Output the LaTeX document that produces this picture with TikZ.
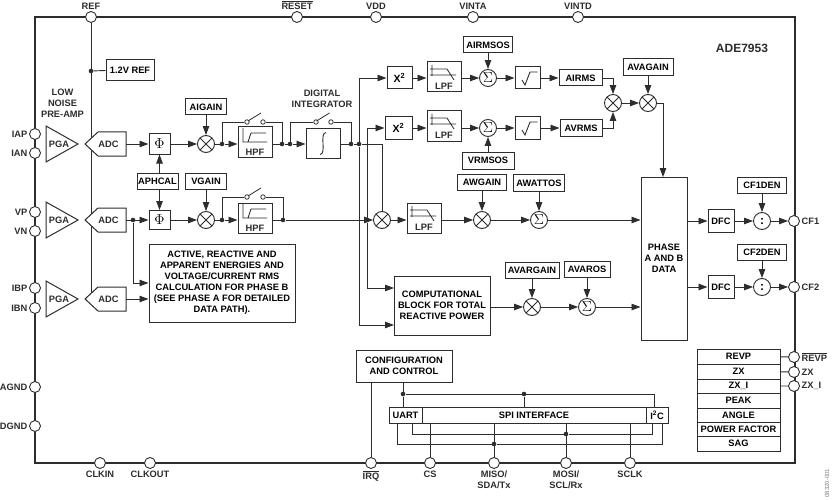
\documentclass[tikz,border=0pt]{standalone}
\usepackage{fontspec}
\setmainfont{Liberation Sans}
\usetikzlibrary{arrows.meta}
\tikzset{
  wire/.style={line width=0.9pt, lineC},
  arr/.style={wire, -{Triangle[length=9pt,width=6.5pt]}},
  blk/.style={draw=lineC, line width=1pt, fill=white, inner sep=0pt, align=center},
  txt/.style={inner sep=0pt, align=center, text=lineC},
  pinc/.style={circle, draw=lineC, line width=0.9pt, fill=white, inner sep=0pt, minimum size=11pt},
  junct/.style={circle, fill=lineC, inner sep=0pt, minimum size=4.6pt},
  opc/.style={circle, draw=lineC, line width=0.9pt, fill=white, inner sep=0pt, minimum size=17pt},
  mult/.style={opc, path picture={
    \draw[line width=0.9pt, lineC] (path picture bounding box.south west) -- (path picture bounding box.north east)
      (path picture bounding box.north west) -- (path picture bounding box.south east);}},
  hpfpic/.pic={
    \draw[line width=0.8pt, lineC] (-12,-14) -- (-12,0) -- (12,0) (-7,0) -- (-4,-9) -- (11,-9);},
  lpfpic/.pic={
    \draw[line width=0.8pt, lineC] (-12,-12) -- (-12,-1) (-14,-2) -- (12,-2) (-14,-8) -- (3,-8) -- (10,3);},
  swpic/.pic={
    \draw[line width=0.8pt, lineC] (-7,-1) -- (6,-9);},
  rootpic/.pic={
    \draw[line width=0.9pt, lineC] (-5.5,2) -- (-2.5,7) -- (2.5,-6) -- (10,-6);}
}
\newcommand{\phisym}{{\fontsize{14.4}{14.4}\selectfont$\Phi$}}
\newcommand{\xsq}{{\fontsize{10.5}{11}\selectfont X\textsuperscript{2}}}
\begin{document}
\begin{tikzpicture}[x=1pt, y=-1pt, every node/.style={font=\bfseries\fontsize{9.3}{11}\selectfont},
    every label/.style={inner sep=1.5pt, align=center, text=lineC}, label distance=0pt]
  \definecolor{lineC}{RGB}{45,45,45}
  \useasboundingbox (0,0) rectangle (832,500);
  \node[draw=lineC, line width=1.6pt, minimum width=760, minimum height=446, inner sep=0pt] (chip) at (415,240) {};
  \node[txt, font=\bfseries\fontsize{12}{14}\selectfont] (title) at (742,48) {ADE7953};
  \foreach \n/\x/\t in {REF/91/REF,RESET/297/$\overline{\mbox{RESET}}$,VDD/376/VDD,VINTA/473/VINTA,VINTD/578/VINTD}
    \node[pinc, label={above:\t}] (pin\n) at (\x,17) {};
  \foreach \n/\y in {IAP/134,IAN/153,VP/212,VN/231,IBP/288,IBN/308,AGND/387,DGND/426}
    \node[pinc, label={left:\n}] (pin\n) at (35,\y) {};
  \foreach \n/\x/\t in {CLKIN/100/CLKIN,CLKOUT/150/CLKOUT,IRQ/371/$\overline{\mbox{IRQ}}$,CS/430/CS,MISO/494/{MISO/\\SDA/Tx},MOSI/566/{MOSI/\\SCL/Rx},SCLK/630/SCLK}
    \node[pinc, label={below:\t}] (pin\n) at (\x,463) {};
  \foreach \n/\y/\t in {CFa/221/CF1,CFb/287/CF2,REVP/357/$\overline{\mbox{REVP}}$,ZX/372/ZX,ZXI/386/ZX\_I}
    \node[pinc, label={right:\t}] (pin\n) at (794,\y) {};
  \coordinate (refEnd) at (91,293);
  \draw[wire] (pinREF) -- (refEnd);
  \foreach \n/\y in {A/144,B/220,C/299}{
    \draw[blk] (46,\y-18) -- (78,\y) -- (46,\y+18) -- cycle;
    \draw[blk] (85,\y) -- (98,\y-12) -- (126,\y-12) -- (126,\y+12) -- (98,\y+12) -- cycle;
    \node[txt] (pga\n) at (59,\y) {PGA};
    \node[txt, minimum width=35, minimum height=24] (adc\n) at (108.5,\y) {ADC};
  }
  \node[txt] (preamp) at (62.5,103.5) {LOW\\NOISE\\PRE-AMP};
  \node[txt] (integLbl) at (322,98.5) {DIGITAL\\INTEGRATOR};
  \foreach \n/\x/\y/\w/\h/\t in {
      refBox/130/70.5/48/21/1.2V REF, phiA/159.5/144/21/20/\phisym, phiB/159.5/220/21/19/\phisym,
      aigain/206/107/41/16/AIGAIN, aphcal/157.5/181.5/41/16/APHCAL, vgain/206/181.5/41/16/VGAIN,
      integ/323/143.5/34/30/{},
      xA/399.5/78/25/22/\xsq, xB/398.5/128/27/23/\xsq,
      rootA/527.5/78/25/22/{}, rootB/527.5/128/25/23/{},
      airmsos/488/45/49/16/AIRMSOS, vrmsos/488/160.5/52/17/VRMSOS,
      awgain/482/182/49/16/AWGAIN, awattos/539/183/51/17/AWATTOS,
      avargain/532/270/54/16/AVARGAIN, avaros/587/269/46/16/AVAROS,
      airms/580.5/78/43/16/AIRMS, avrms/581/128/42/17/AVRMS, avagain/648/67.5/50/17/AVAGAIN,
      dfcA/721/221/26/23/DFC, dfcB/721/287/26/23/DFC,
      cfaden/762/185/49/16/CF1DEN, cfbden/762/252/49/16/CF2DEN,
      phase/664/258.5/46/163/{PHASE\\A AND B\\DATA},
      comp/442/305.5/96/59/{COMPUTATIONAL\\BLOCK FOR TOTAL\\REACTIVE POWER},
      phaseB/222/283/146/78/{ACTIVE, REACTIVE AND\\APPARENT ENERGIES AND\\VOLTAGE/CURRENT RMS\\CALCULATION FOR PHASE B\\(SEE PHASE A FOR DETAILED\\DATA PATH).},
      cfg/404/366/96/32/{CONFIGURATION\\AND CONTROL},
      uart/405.5/415/33/16/UART, spi/534/415/224/16/SPI INTERFACE, i2c/657/415/22/16/I\textsuperscript{2}C}
    \node[blk, minimum width=\w, minimum height=\h] (\n) at (\x,\y) {\t};
  \foreach \n/\y/\h/\t in {REVP/356.5/15/REVP,ZX/371.5/15/ZX,ZXI/386/14/ZX\_I,PEAK/400.5/15/PEAK,ANGLE/415/14/ANGLE,PF/429/14/POWER FACTOR,SAG/443.5/15/SAG}
    \node[blk, minimum width=83, minimum height=\h] (row\n) at (738.5,\y) {\t};
  \foreach \n/\x/\y in {hpfA/255/142,hpfB/255/218}{
    \node[blk, minimum width=34, minimum height=30] (\n) at (\x,\y) {};
    \node[txt] (\n txt) at (\x,\y+10) {HPF};
    \pic at (\x,\y) {hpfpic};
  }
  \foreach \n/\x/\y in {lpfA/444/77,lpfB/444/126,lpfC/424/218}{
    \node[blk, minimum width=34, minimum height=30] (\n) at (\x,\y) {};
    \node[txt] (\n txt) at (\x,\y+9) {LPF};
    \pic at (\x,\y) {lpfpic};
  }
  \draw[wire] (320,154.5) .. controls (327,154) and (319,133) .. (326,132.5);
  \pic at (rootA) {rootpic};
  \pic at (rootB) {rootpic};
  \foreach \n/\x/\y in {mulA/206/144,mulB/206/220,mulC/382/220,mulD/482/220,mulE/532/307,mulF/613/103,mulG/648/103}
    \node[mult] (\n) at (\x,\y) {};
  \foreach \n/\x/\y in {sumA/488/78,sumB/488/128,sumC/539/220,sumD/587/307}
    \node[opc, font=\fontsize{14.4}{14.4}\selectfont] (\n) at (\x,\y) {$\Sigma$};
  \foreach \n/\y in {divA/221,divB/287}
    \node[opc, font=\bfseries\fontsize{12}{12}\selectfont] (\n) at (762,\y) {:};
  \foreach \n/\x/\y in {dA/222/144,dB/282/144,dC/290/144,dD/351/144,dE/359/144,
      dF/133/220,dG/222/220,dH/283/220,dI/367/220,dRef/91/71,dCfg/403/394,dSpi/524/394,dMiso/494/444,dMosi/566/434}
    \node[junct] (\n) at (\x,\y) {};
  \foreach \n/\x/\y in {swAl/247/122,swAr/263/122,swBl/247/197,swBr/263/197,swCl/316/122,swCr/331/122}
    \node[circle, draw=lineC, line width=0.8pt, fill=white, inner sep=0pt, minimum size=4.5pt] (\n) at (\x,\y) {};
  \pic at (255,122) {swpic};
  \pic at (255,197) {swpic};
  \pic at (323.5,122) {swpic};
  \coordinate (compA) at (394,288);
  \coordinate (compB) at (394,325);
  \coordinate (i2cTop) at (654,407);
  \coordinate (uartA) at (397,423);
  \coordinate (uartB) at (412,423);
  \coordinate (i2cA) at (652,423);
  \coordinate (i2cB) at (662,423);
  \draw[wire] (dRef) -- (refBox.west);
  \foreach \a/\b in {adcA/phiA,phiA/mulA,adcB/phiB,phiB/mulB,dI/mulC,sumA/rootA,sumB/rootB,rootA/airms,rootB/avrms,
      mulF/mulG,mulD/sumC,mulE/sumD,dfcA/divA,dfcB/divB,
      divA/pinCFa,divB/pinCFb,airmsos/sumA,vrmsos/sumB,aigain/mulA,vgain/mulB,
      awgain/mulD,awattos/sumC,avargain/mulE,avaros/sumD,avagain/mulG,cfaden/divA,cfbden/divB}
    \draw[arr] (\a) -- (\b);
  \draw[arr] (phiA |- aphcal.north) -- (phiA);
  \draw[arr] (phiB |- aphcal.south) -- (phiB);
  \draw[arr] (xA) -- (xA -| lpfA.west);
  \draw[arr] (xB) -- (xB -| lpfB.west);
  \draw[arr] (mulC) -- (mulC -| lpfC.west);
  \draw[arr] (lpfC.east |- mulD) -- (mulD);
  \draw[arr] (comp.east |- mulE) -- (mulE);
  \draw[arr] (lpfA.east |- sumA) -- (sumA);
  \draw[arr] (lpfB.east |- sumB) -- (sumB);
  \draw[arr] (dA) -- (dA -| hpfA.west);
  \draw[arr] (dG) -- (dG -| hpfB.west);
  \draw[wire] (mulA) -- (dA) (mulB) -- (dG) (dA -| hpfA.east) -- (dB) (dG -| hpfB.east) -- (dH) -- (dI);
  \draw[wire] (dA) |- (swAl) (swAr) -| (dB) (dG) |- (swBl) (swBr) -| (dH);
  \draw[wire] (dB) -- (dC) (dD) -- (dE);
  \draw[arr] (dC) -- (dC -| integ.west);
  \draw[wire] (dD -| integ.east) -- (dD) (dC) |- (swCl) (swCr) -| (dD);
  \draw[arr] (dE) |- (xA);
  \draw[arr] (dI) |- (xB);
  \draw[arr] (dI) |- (compA);
  \draw[arr] (dE) |- (compB);
  \draw[wire] (dE) -| (mulC.north);
  \draw[arr] (dF) |- (phaseB.west);
  \draw[arr] (adcC) -- (adcC -| phaseB.west);
  \draw[arr] (airms) -| (mulF);
  \draw[arr] (avrms) -| (mulF);
  \coordinate (phaseTop) at (663,177);
  \draw[arr] (mulG) -| (phaseTop);
  \draw[arr] (sumC) -- (sumC -| phase.west);
  \draw[arr] (sumD) -- (sumD -| phase.west);
  \draw[arr] (dfcA -| phase.east) -- (dfcA);
  \draw[arr] (dfcB -| phase.east) -- (dfcB);
  \draw[wire] (pinREVP) -- (rowREVP) (pinZX) -- (rowZX) (pinZXI) -- (rowZXI);
  \draw[wire] (pinIRQ) -- (pinIRQ |- cfg.south) (pinCS) -- (pinCS |- spi.south) (pinSCLK) -- (pinSCLK |- spi.south);
  \draw[wire] (pinMISO) -- (pinMISO |- spi.south) (pinMOSI) -- (pinMOSI |- spi.south);
  \draw[wire] (dCfg |- cfg.south) -- (dCfg) -- (dCfg |- uart.north) (dCfg) -| (i2cTop) (dSpi) -- (dSpi |- spi.north);
  \draw[wire] (uartA) |- (dMiso) -| (i2cB) (uartB) |- (dMosi) -| (i2cA);
  \node[txt, rotate=90, font=\fontsize{6}{6}\selectfont, text=black!50] (figNo) at (827,483) {08320-001};
\end{tikzpicture}
\end{document}
